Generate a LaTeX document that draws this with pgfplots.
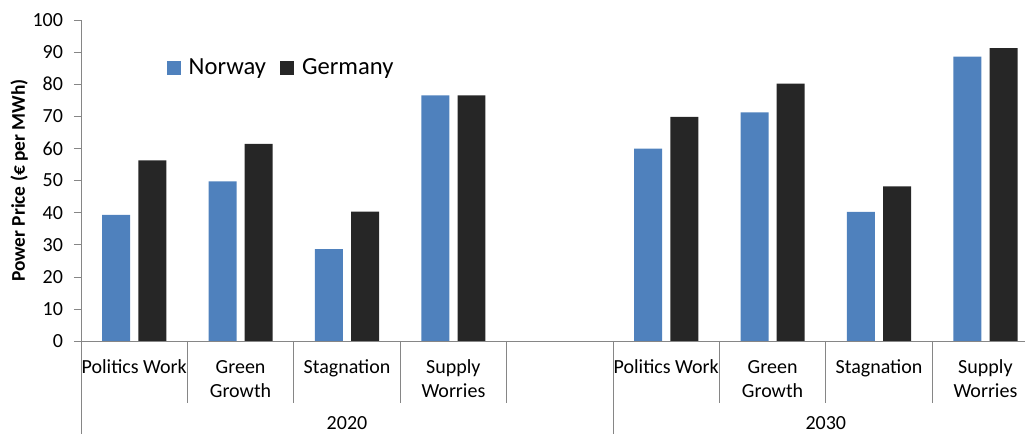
\documentclass[border=0pt]{standalone}
\usepackage{pgfplots}
\pgfplotsset{compat=1.18}
\usepackage{pgfplotstable}
\usepackage{fontspec}
\setmainfont{Carlito}

\definecolor{norway}{HTML}{4F81BD}
\definecolor{germany}{HTML}{262626}
\definecolor{axgray}{HTML}{868686}

% x = slot index (4 is the empty gap between 2020 and 2030)
\pgfplotstableread{
x   y
0   39.3
1   49.7
2   28.6
3   76.5
5   59.9
6   71.2
7   40.2
8   88.6
}\norwaytab

\pgfplotstableread{
x   y
0   56.3
1   61.4
2   40.3
3   76.5
5   69.8
6   80.2
7   48.2
8   91.2
}\germanytab

\begin{document}
\begin{tikzpicture}
  \begin{axis}[
      scale only axis,
      width=472pt, height=160.5pt,
      xmin=-0.5, xmax=8.372,
      ymin=0, ymax=100,
      ytick={0,10,...,100},
      xtick={0,1,2,3,5,6,7,8},
      xticklabels={Politics Work, Green\\Growth, Stagnation, Supply\\Worries,
                   Politics Work, Green\\Growth, Stagnation, Supply\\Worries},
      axis x line=bottom, axis y line=left,
      axis line style={axgray, -},
      tick align=outside,
      major tick length=3.5pt,
      ytick style={axgray},
      xtick style={draw=none},
      /pgf/number format/assume math mode=true,
      tick label style={font=\fontsize{10}{12}\selectfont},
      yticklabel style={xshift=-2pt},
      xticklabel style={align=center, anchor=north, yshift=-2.5pt},
      ylabel={\bfseries Power Price (€ per MWh)},
      ylabel style={at={(rel axis cs:-0.0655,0.5)}, anchor=center,
                    font=\fontsize{9.7}{11}\selectfont},
      clip=false,
      legend columns=2,
      legend style={at={(rel axis cs:0.084,0.85)}, anchor=west,
                    draw=none, fill=none,
                    font=\fontsize{12.3}{14}\selectfont,
                    /tikz/every odd column/.append style={column sep=2pt},
                    /tikz/every even column/.append style={column sep=5pt}},
      legend image code/.code={\fill[#1] (-3pt,-3.5pt) rectangle (4pt,3.5pt);},
    ]
    \addplot[ybar, bar width=0.263, bar shift=-0.17, fill=norway, draw=none]
      table[x=x, y=y] {\norwaytab};
    \addplot[ybar, bar width=0.263, bar shift=0.17, fill=germany, draw=none]
      table[x=x, y=y] {\germanytab};
    \legend{Norway, Germany}

    % category separators below the axis
    \pgfplotsinvokeforeach{0.5,1.5,2.5,3.5,5.5,6.5,7.5,8.5}{
      \draw[axgray] (axis cs:#1,0) -- ([yshift=-31pt]axis cs:#1,0);
    }
    \pgfplotsinvokeforeach{-0.5,4.5}{
      \draw[axgray] (axis cs:#1,0) -- ([yshift=-46.5pt]axis cs:#1,0);
    }
    \node[anchor=base, yshift=-44.3pt, font=\fontsize{10}{12}\selectfont] at (axis cs:2,0) {2020};
    \node[anchor=base, yshift=-44.3pt, font=\fontsize{10}{12}\selectfont] at (axis cs:6.5,0) {2030};

    \coordinate (bl) at (rel axis cs:0,0);
    \coordinate (tr) at (rel axis cs:1,1);
  \end{axis}
  \pgfresetboundingbox
  \path[use as bounding box] ([xshift=-40.5pt,yshift=-46.5pt]bl) rectangle ([yshift=10pt]tr);
\end{tikzpicture}
\end{document}
